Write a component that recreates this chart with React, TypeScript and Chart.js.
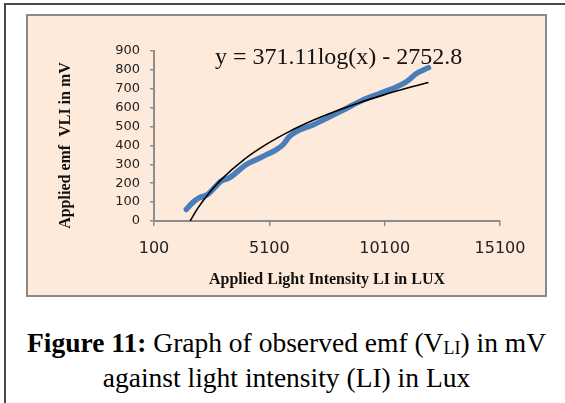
import { useEffect, useRef } from "react";
import { Chart, registerables } from "chart.js";

Chart.register(...registerables);

// Observed emf curve
const lightIntensityLux = [1500, 1765, 2052, 2417, 2709, 3000, 3361, 3722, 4087, 4522, 4957, 5391, 5683, 5970, 6404, 6983, 7709, 8435, 9157, 9883, 10609, 11043, 11478, 12000];
const observedEmfMv = [61, 96, 122, 140, 175, 210, 228, 262, 298, 324, 350, 377, 403, 447, 482, 508, 552, 596, 640, 675, 710, 737, 781, 812];

// Logarithmic trend line
const trendLux = [1667, 2000, 2500, 3000, 4000, 5000, 6000, 7000, 8000, 9000, 10000, 11000, 12000];
const trendEmfMv = [0, 68, 150, 218, 325, 408, 476, 533, 582, 626, 665, 701, 733];

// Axes
const xMin = 100;
const xMax = 15100;
const xStep = 5000;
const yMin = 0;
const yMax = 900;
const yStep = 100;

// Texts
const equationLabel = "y = 371.11log(x) - 2752.8";
const xAxisTitle = "Applied Light Intensity LI in LUX";
const yAxisTitle = "Applied emf  VLI in mV";

const overlayText = {
  id: "overlayText",
  afterDraw(chart: any) {
    const { ctx, chartArea } = chart;
    ctx.save();
    ctx.fillStyle = "#111";
    ctx.font = '24px "Liberation Serif"';
    ctx.textAlign = "left";
    ctx.textBaseline = "alphabetic";
    ctx.fillText(equationLabel, chartArea.left + 61, chartArea.top + 13);

    ctx.font = 'bold 16px "Liberation Serif"';
    ctx.translate(69.5, (chartArea.top + chartArea.bottom) / 2 + 9.5);
    ctx.rotate(-Math.PI / 2);
    ctx.textAlign = "center";
    ctx.textBaseline = "alphabetic";
    ctx.fillText(yAxisTitle, 0, 0);
    ctx.restore();
  },
};

export default function App() {
  const canvasRef = useRef<HTMLCanvasElement | null>(null);

  useEffect(() => {
    if (!canvasRef.current) return;
    const chart = new Chart(canvasRef.current, {
      type: "scatter",
      data: {
        datasets: [
          {
            label: "Log trend",
            data: trendLux.map((x, i) => ({ x, y: trendEmfMv[i] })),
            showLine: true,
            borderColor: "#000000",
            borderWidth: 1.6,
            pointRadius: 0,
            cubicInterpolationMode: "monotone",
          },
          {
            label: "Observed emf",
            data: lightIntensityLux.map((x, i) => ({ x, y: observedEmfMv[i] })),
            showLine: true,
            borderColor: "#4A7EBB",
            borderWidth: 5.5,
            borderCapStyle: "round",
            borderJoinStyle: "round",
            pointRadius: 0,
            cubicInterpolationMode: "monotone",
          },
        ],
      },
      options: {
        responsive: false,
        animation: false,
        events: [],
        layout: { padding: { left: 0, top: 51, right: 65, bottom: 0 } },
        plugins: {
          legend: { display: false },
          tooltip: { enabled: false },
        },
        scales: {
          x: {
            type: "linear",
            min: xMin,
            max: xMax,
            afterFit(scale: any) {
              scale.height = 79;
            },
            ticks: {
              stepSize: xStep,
              padding: 13,
              color: "#222",
              font: { family: '"DejaVu Sans"', size: 16 },
              maxRotation: 0,
              callback: (v: any) => String(v),
            },
            grid: {
              drawOnChartArea: false,
              drawTicks: true,
              tickLength: 5,
              color: "#8c8c8c",
              lineWidth: 1.5,
            },
            border: { display: true, color: "#8c8c8c", width: 2 },
            title: {
              display: true,
              text: xAxisTitle,
              color: "#111",
              font: { family: '"Liberation Serif"', size: 16, weight: "bold" },
              padding: { top: 0, bottom: 11 },
            },
          },
          y: {
            type: "linear",
            min: yMin,
            max: yMax,
            afterFit(scale: any) {
              scale.width = 154;
            },
            ticks: {
              stepSize: yStep,
              padding: 10,
              color: "#222",
              font: { family: '"DejaVu Sans"', size: 13 },
              callback: (v: any) => String(v),
            },
            grid: {
              drawOnChartArea: false,
              drawTicks: true,
              tickLength: 4,
              color: "#8c8c8c",
              lineWidth: 1.5,
            },
            border: { display: true, color: "#8c8c8c", width: 2 },
          },
        },
      },
      plugins: [overlayText],
    } as any);
    return () => chart.destroy();
  }, []);

  return (
    <div
      style={{
        position: "absolute",
        left: 0,
        top: 0,
        width: 565,
        height: 403,
        overflow: "hidden",
        background: "#ffffff",
      }}
    >
      <div
        style={{
          position: "absolute",
          left: 4,
          top: 3,
          width: 620,
          height: 500,
          border: "2px solid #4a4a4a",
          boxSizing: "border-box",
        }}
      />
      <div
        style={{
          position: "absolute",
          left: 26,
          top: 14,
          width: 521,
          height: 283,
          border: "2px solid #8a8a8a",
          background: "#FDEADA",
          boxSizing: "border-box",
        }}
      />
      <canvas
        ref={canvasRef}
        width={565}
        height={300}
        style={{ position: "absolute", left: 0, top: 0, width: 565, height: 300 }}
      />
      <div
        style={{
          position: "absolute",
          left: 0,
          top: 325,
          width: 573,
          textAlign: "center",
          fontFamily: '"Liberation Serif"',
          fontSize: 27.5,
          lineHeight: "35px",
          color: "#000",
          whiteSpace: "nowrap",
        }}
      >
        <div>
          <b>Figure 11:</b> Graph of observed emf (V
          <span style={{ fontSize: 18, verticalAlign: "-2px", lineHeight: 0 }}>LI</span>) in mV
        </div>
        <div>against light intensity (LI) in Lux</div>
      </div>
    </div>
  );
}
